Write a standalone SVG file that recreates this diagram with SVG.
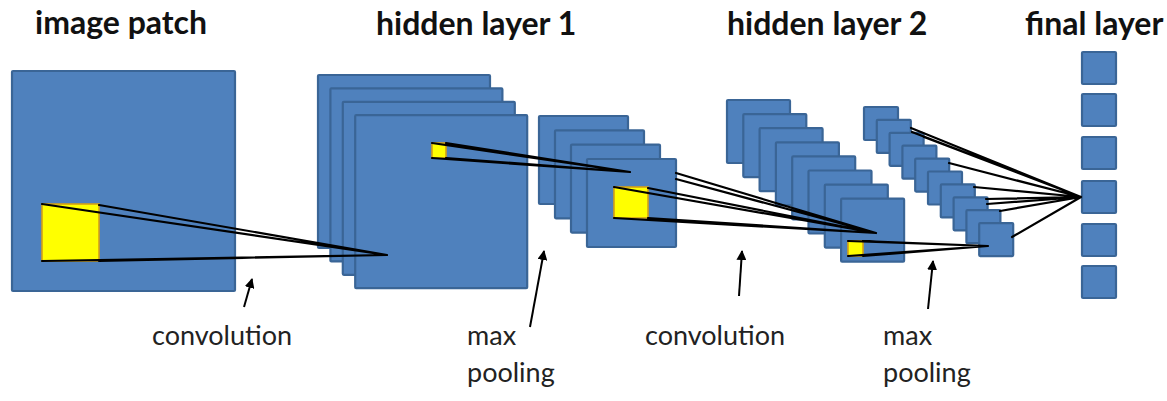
<svg xmlns="http://www.w3.org/2000/svg" width="1167" height="401" viewBox="0 0 1167 401">
<style>
.b{fill:#4F81BD;stroke:#3A6596;stroke-width:2.2}
.y{fill:#FFFF00;stroke:#D4A017;stroke-width:1.6}
.ln{stroke:#000;stroke-width:2.2;fill:none;stroke-linecap:round}
.ar{stroke:#000;stroke-width:2;fill:none;marker-end:url(#ah)}
.t{font-family:Lato,"Liberation Sans",sans-serif;font-weight:bold;font-size:32px;fill:#111}
.l{font-family:Lato,"Liberation Sans",sans-serif;font-size:27px;fill:#222}
</style>
<defs>
<marker id="ah" markerWidth="10" markerHeight="10" viewBox="0 0 10 10" refX="9" refY="5" orient="auto" markerUnits="userSpaceOnUse">
<path d="M0,0 L10,5 L0,10 z" fill="#000"/>
</marker>
</defs>
<rect width="1167" height="401" fill="#fff"/>
<g id="titles">
<text class="t" x="35" y="34">image patch</text>
<text class="t" x="376" y="35">hidden layer 1</text>
<text class="t" x="727" y="35">hidden layer 2</text>
<text class="t" x="1025" y="35">final layer</text>
</g>
<g id="image-patch">
<rect class="b" x="12" y="71" width="223" height="220" rx="1"/>
<rect class="y" x="42" y="204" width="57" height="57"/>
</g>
<g id="hidden-layer-1">
<rect class="b" x="318" y="75" width="172" height="173" rx="1"/>
<rect class="b" x="330.4" y="88.4" width="172" height="173" rx="1"/>
<rect class="b" x="342.8" y="101.8" width="172" height="173" rx="1"/>
<rect class="b" x="355.2" y="115.2" width="172" height="173" rx="1"/>
<rect class="y" x="432" y="143" width="14" height="15"/>
</g>
<g id="pooled-1">
<rect class="b" x="539" y="116" width="89" height="88" rx="1"/>
<rect class="b" x="555" y="130.3" width="89" height="88" rx="1"/>
<rect class="b" x="571" y="144.6" width="89" height="88" rx="1"/>
<rect class="b" x="587" y="159" width="89" height="88" rx="1"/>
<rect class="y" x="614" y="187" width="34" height="31"/>
</g>
<g id="hidden-layer-2">
<rect class="b" x="727" y="100" width="63" height="63" rx="1"/>
<rect class="b" x="743.3" y="114.1" width="63" height="63" rx="1"/>
<rect class="b" x="759.6" y="128.2" width="63" height="63" rx="1"/>
<rect class="b" x="775.9" y="142.3" width="63" height="63" rx="1"/>
<rect class="b" x="792.2" y="156.4" width="63" height="63" rx="1"/>
<rect class="b" x="808.5" y="170.5" width="63" height="63" rx="1"/>
<rect class="b" x="824.8" y="184.6" width="63" height="63" rx="1"/>
<rect class="b" x="841.1" y="198.7" width="63" height="63" rx="1"/>
<rect class="y" x="848" y="241" width="15" height="15"/>
</g>
<g id="pooled-2">
<rect class="b" x="864" y="107" width="34" height="33" rx="1"/>
<rect class="b" x="876.8" y="119.9" width="34" height="33" rx="1"/>
<rect class="b" x="889.6" y="132.8" width="34" height="33" rx="1"/>
<rect class="b" x="902.4" y="145.7" width="34" height="33" rx="1"/>
<rect class="b" x="915.2" y="158.6" width="34" height="33" rx="1"/>
<rect class="b" x="928" y="171.5" width="34" height="33" rx="1"/>
<rect class="b" x="940.8" y="184.4" width="34" height="33" rx="1"/>
<rect class="b" x="953.6" y="197.3" width="34" height="33" rx="1"/>
<rect class="b" x="966.4" y="210.2" width="34" height="33" rx="1"/>
<rect class="b" x="979.2" y="223.1" width="34" height="33" rx="1"/>
</g>
<g id="final-layer">
<rect class="b" x="1082" y="52" width="34" height="32" rx="1"/>
<rect class="b" x="1082" y="94" width="34" height="32" rx="1"/>
<rect class="b" x="1082" y="137" width="34" height="32" rx="1"/>
<rect class="b" x="1082" y="181" width="34" height="32" rx="1"/>
<rect class="b" x="1082" y="224" width="34" height="32" rx="1"/>
<rect class="b" x="1082" y="266" width="34" height="32" rx="1"/>
</g>
<g id="connectors">
<path class="ln" d="M42,204 L387,255 M99,205 L387,255 M42,261 L387,255 M99,261 L387,255"/>
<path class="ln" d="M432,143 L630,172 M446,143 L630,172 M432,158 L630,172 M446,158 L630,172"/>
<path class="ln" d="M676,173 L876,233 M676,179 L876,233 M614,187 L876,233 M648,188 L876,233 M614,218 L876,233 M648,218 L876,233"/>
<path class="ln" d="M848,241 L988,246 M863,241 L988,246 M848,256 L988,246 M863,256 L988,246"/>
<path class="ln" d="M911,128 L1081,197 M912,132 L1081,197 M924,137 L1081,197 M949,163 L1081,197 M974,187 L1081,197 M986,199 L1081,197 M987,204 L1081,197 M1000,211 L1081,197 M1012,237 L1081,197"/>
<line class="ar" x1="244" y1="307" x2="252" y2="279"/>
<line class="ar" x1="530" y1="327" x2="544" y2="251"/>
<line class="ar" x1="739" y1="296" x2="742" y2="251"/>
<line class="ar" x1="928" y1="309" x2="933" y2="261"/>
</g>
<g id="labels">
<text class="l" x="152" y="345">convolution</text>
<text class="l" x="467" y="345">max</text>
<text class="l" x="467" y="382">pooling</text>
<text class="l" x="645" y="345">convolution</text>
<text class="l" x="883" y="345">max</text>
<text class="l" x="883" y="382">pooling</text>
</g>
</svg>
